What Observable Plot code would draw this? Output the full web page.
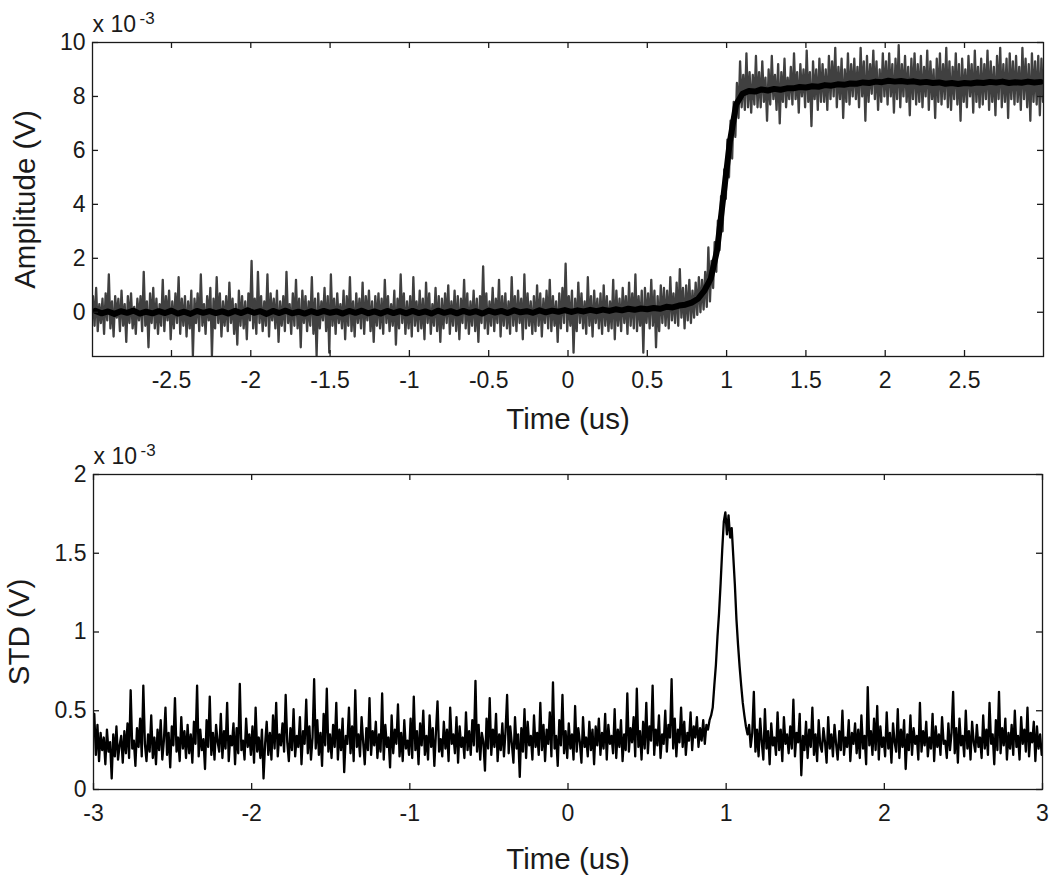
<!DOCTYPE html>
<html><head><meta charset="utf-8">
<script src="https://cdn.jsdelivr.net/npm/d3@7"></script>
<script src="https://cdn.jsdelivr.net/npm/@observablehq/plot@0.6"></script>
<style>
html,body{margin:0;padding:0;background:#fff;}
#chart{width:1050px;font-family:"Liberation Sans",Arial,sans-serif;}
#chart svg{display:block;}
</style></head><body><div id="chart"></div>
<script>
// Sampling grid of the raw amplitude captures (us)
const ampT0 = -2.995, ampDt = 0.01;
// Raw amplitude captures, in units of 1e-3 V
const amplitudeTraces = [
0.6,-0.5,0.9,-0.7,0.3,-0.4,0.5,-0.8,0.7,-0.3,1.4,-0.6,0.4,-0.9,0.6,-0.2,0.5,-0.7,0.8,-0.5,
0.3,-1.1,0.6,-0.4,0.7,-0.6,0.2,-0.8,0.5,-0.3,0.6,-0.7,1.5,-0.5,0.4,-1.3,0.7,-0.4,0.9,-0.6,
0.5,-0.8,0.3,-0.5,1.2,-0.7,0.6,-0.3,0.8,-1.0,0.4,-0.6,0.7,-0.4,1.3,-0.8,0.5,-0.5,0.6,-0.9,
0.4,-0.6,0.8,-1.6,0.5,-0.4,0.7,-0.7,1.4,-0.5,0.3,-0.8,0.6,-0.3,0.9,-1.6,0.5,-0.6,1.3,-0.4,
0.7,-0.9,0.4,-0.5,0.6,-0.7,1.1,-0.4,0.5,-0.8,0.3,-1.2,0.8,-0.5,0.6,-0.6,0.4,-1.0,0.7,-0.3,
1.9,-0.6,0.5,-0.8,1.5,-0.4,0.6,-0.7,0.4,-0.5,1.4,-0.9,0.7,-0.3,0.5,-0.6,0.8,-1.1,0.4,-0.5,
0.6,-0.7,1.5,-0.4,0.3,-0.8,0.7,-0.5,1.2,-0.6,0.5,-1.3,0.8,-0.4,0.6,-0.7,0.4,-0.5,1.3,-0.8,
0.5,-1.6,0.7,-0.6,0.4,-0.3,0.9,-0.7,0.6,-1.5,1.4,-0.5,0.5,-0.8,0.7,-0.4,0.3,-0.6,0.8,-1.0,
0.6,-0.5,1.3,-0.7,0.4,-0.9,0.7,-0.4,0.5,-0.6,1.1,-0.8,0.6,-0.3,0.8,-0.7,0.4,-1.1,0.6,-0.5,
0.7,-0.6,0.5,-0.8,1.2,-0.4,0.6,-0.7,0.3,-0.5,0.8,-1.2,0.5,-0.6,1.4,-0.4,0.7,-0.8,0.4,-0.6,
0.6,-0.9,1.3,-0.5,0.4,-0.7,0.8,-0.6,0.5,-1.0,1.1,-0.4,0.7,-0.8,0.3,-0.5,0.9,-0.7,0.6,-1.1,
0.5,-0.6,0.7,-0.4,1.0,-0.8,0.4,-0.5,0.8,-0.7,0.6,-1.0,0.5,-0.4,1.2,-0.6,0.7,-0.8,0.4,-0.5,
0.8,-0.7,0.5,-1.1,0.6,-0.4,1.7,-0.6,0.7,-0.8,0.4,-0.5,0.9,-0.7,0.5,-0.4,1.2,-0.9,0.6,-0.5,
0.7,-0.6,0.4,-0.8,1.3,-0.5,0.6,-0.7,0.8,-0.4,0.5,-1.0,1.4,-0.6,0.7,-0.5,0.4,-0.8,0.6,-0.7,
1.0,-0.5,0.7,-0.9,0.5,-0.4,0.8,-0.6,1.2,-0.7,0.6,-0.5,0.4,-1.1,0.7,-0.6,0.9,-0.4,1.8,-0.7,
0.6,-0.5,0.8,-1.5,0.5,-0.7,1.1,-0.4,0.7,-0.6,0.4,-0.8,1.3,-0.5,0.6,-0.9,0.8,-0.4,0.5,-0.6,
0.7,-0.8,1.0,-0.5,0.6,-0.7,0.4,-0.6,1.2,-1.0,0.8,-0.5,0.5,-0.7,0.9,-0.4,0.6,-0.8,1.1,-0.5,
0.7,-0.6,1.4,-0.7,0.6,-0.5,0.8,-1.5,0.9,-0.4,0.7,-0.6,1.2,-0.5,0.8,-1.3,0.6,-0.7,1.0,-0.4,
0.9,-0.5,0.8,-0.6,1.3,-0.3,0.7,-0.4,1.1,-0.5,1.6,-0.2,0.9,-0.6,1.0,-0.3,1.2,-0.4,0.8,-0.2,
1.1,-0.1,1.3,0.0,1.2,0.1,1.5,0.2,2.4,0.4,1.9,0.9,2.6,1.5,3.4,2.3,4.3,3.0,5.3,4.2,
6.4,5.0,7.1,5.7,7.8,6.5,8.5,7.2,9.3,7.6,8.8,7.5,9.6,7.6,8.9,7.4,8.8,7.7,9.5,7.6,
8.9,7.6,9.3,7.8,8.7,7.1,9.0,7.7,9.5,7.9,8.8,7.5,9.2,7.0,8.9,7.8,9.4,7.6,8.7,7.9,
9.1,7.7,9.6,7.9,8.9,7.4,9.2,8.0,9.0,7.6,9.7,7.8,8.9,6.9,9.3,7.9,9.0,7.5,9.4,7.8,
9.2,7.8,9.0,7.5,9.5,7.9,9.3,8.0,9.8,7.6,9.1,7.9,9.4,7.2,9.0,7.8,9.6,7.7,9.2,8.0,
9.4,7.9,9.1,7.6,9.8,8.0,9.3,7.1,9.5,7.8,9.2,8.1,9.7,7.9,9.3,7.5,9.0,7.8,9.6,8.0,
9.3,7.7,9.6,8.0,9.2,7.4,9.4,7.9,9.9,7.6,9.2,8.0,9.5,7.8,9.1,7.3,9.4,7.9,9.6,7.7,
9.2,7.8,9.5,7.6,9.1,8.0,9.7,7.5,9.3,7.9,9.0,7.2,9.4,7.8,9.6,7.7,9.2,7.9,9.8,7.6,
9.3,7.5,9.1,7.9,9.6,7.7,9.2,7.1,9.4,7.8,9.0,7.6,9.5,8.0,9.2,7.4,9.7,7.8,9.1,7.6,
9.4,7.7,9.2,7.9,9.7,7.5,9.3,7.8,9.1,7.3,9.5,7.9,9.8,7.6,9.2,7.8,9.4,7.2,9.6,7.9,
9.3,7.7,9.5,7.8,9.1,7.5,9.8,7.9,9.4,7.6,9.2,7.1,9.6,7.8,9.3,7.7,9.5,7.3,9.4,7.8
];
// Averaged amplitude (black trace), units of 1e-3 V
const meanT0 = -2.98, meanDt = 0.04;
const amplitudeMean = [
0.05,-0.04,0.03,-0.06,0.04,-0.02,0.06,-0.05,0.02,-0.04,
0.04,-0.03,0.06,-0.05,0.02,-0.06,0.05,-0.02,0.04,-0.03,
0.03,-0.05,0.05,-0.03,0.07,-0.02,0.04,-0.06,0.05,-0.03,
0.06,-0.04,0.02,-0.05,0.04,-0.03,0.05,-0.02,0.03,-0.05,
0.05,-0.02,0.06,-0.04,0.03,-0.05,0.05,-0.03,0.04,-0.04,
0.05,-0.03,0.03,-0.05,0.06,-0.02,0.04,-0.04,0.05,-0.02,
0.04,-0.05,0.06,-0.01,0.05,-0.03,0.07,0.0,0.04,-0.02,
0.07,0.0,0.06,0.02,0.08,0.01,0.07,0.03,0.09,0.04,
0.1,0.05,0.11,0.07,0.13,0.09,0.14,0.11,0.16,0.13,
0.2,0.18,0.25,0.28,0.36,0.5,0.8,1.25,2.3,4.3,
6.3,7.7,8.1,8.2,8.18,8.26,8.22,8.28,8.25,8.3,
8.3,8.35,8.33,8.38,8.36,8.42,8.4,8.45,8.43,8.48,
8.47,8.52,8.5,8.55,8.53,8.58,8.55,8.57,8.54,8.56,
8.52,8.54,8.5,8.52,8.47,8.5,8.46,8.5,8.48,8.52,
8.5,8.54,8.52,8.55,8.5,8.53,8.51,8.55,8.52,8.54
];
// Standard deviation, units of 1e-3 V
const stdT0 = -2.995, stdDt = 0.01;
const stdValues = [
0.48,0.22,0.41,0.18,0.36,0.25,0.33,0.16,0.38,0.24,0.30,0.07,0.35,0.21,0.40,0.19,0.28,0.34,0.17,0.37,
0.23,0.42,0.20,0.63,0.26,0.31,0.15,0.39,0.27,0.45,0.21,0.66,0.29,0.18,0.35,0.24,0.47,0.20,0.33,0.16,
0.38,0.25,0.44,0.19,0.31,0.52,0.22,0.36,0.14,0.40,0.28,0.58,0.24,0.33,0.18,0.46,0.26,0.37,0.20,0.41,
0.23,0.35,0.17,0.43,0.29,0.66,0.21,0.38,0.25,0.32,0.13,0.44,0.27,0.59,0.22,0.36,0.19,0.41,0.30,0.24,
0.48,0.20,0.37,0.26,0.55,0.18,0.34,0.28,0.42,0.16,0.39,0.23,0.67,0.25,0.31,0.19,0.45,0.27,0.35,0.22,
0.40,0.17,0.52,0.24,0.33,0.20,0.38,0.07,0.29,0.43,0.22,0.36,0.19,0.47,0.26,0.55,0.21,0.35,0.28,0.42,
0.24,0.60,0.30,0.18,0.39,0.25,0.51,0.21,0.34,0.27,0.46,0.16,0.37,0.29,0.57,0.23,0.40,0.19,0.33,0.70,
0.26,0.44,0.22,0.36,0.15,0.48,0.28,0.64,0.24,0.35,0.20,0.41,0.27,0.55,0.19,0.38,0.25,0.45,0.11,0.34,
0.29,0.52,0.23,0.40,0.18,0.63,0.27,0.35,0.21,0.46,0.30,0.16,0.39,0.25,0.58,0.22,0.37,0.28,0.43,0.20,
0.35,0.24,0.61,0.19,0.41,0.27,0.33,0.14,0.47,0.23,0.38,0.29,0.54,0.21,0.36,0.18,0.44,0.26,0.31,0.22,
0.45,0.20,0.59,0.25,0.37,0.16,0.42,0.28,0.50,0.22,0.34,0.19,0.47,0.27,0.39,0.15,0.36,0.56,0.24,0.32,
0.21,0.43,0.26,0.38,0.18,0.52,0.29,0.35,0.23,0.46,0.17,0.40,0.27,0.33,0.20,0.49,0.25,0.37,0.22,0.44,
0.28,0.69,0.24,0.41,0.19,0.36,0.30,0.12,0.45,0.26,0.58,0.22,0.38,0.27,0.48,0.18,0.35,0.25,0.42,0.21,
0.37,0.60,0.23,0.40,0.29,0.17,0.46,0.26,0.35,0.08,0.39,0.24,0.51,0.20,0.43,0.28,0.34,0.19,0.47,0.27,
0.36,0.22,0.55,0.25,0.41,0.18,0.38,0.29,0.49,0.21,0.68,0.26,0.34,0.15,0.44,0.28,0.60,0.23,0.37,0.20,
0.42,0.26,0.35,0.19,0.53,0.24,0.39,0.30,0.17,0.46,0.27,0.33,0.21,0.43,0.25,0.38,0.16,0.40,0.28,0.45,
0.22,0.36,0.26,0.48,0.19,0.41,0.29,0.34,0.23,0.51,0.20,0.38,0.27,0.44,0.18,0.35,0.25,0.61,0.24,0.39,
0.30,0.46,0.21,0.64,0.27,0.37,0.19,0.43,0.26,0.55,0.23,0.40,0.31,0.66,0.22,0.38,0.28,0.47,0.20,0.35,
0.29,0.50,0.24,0.41,0.33,0.70,0.26,0.45,0.21,0.38,0.30,0.52,0.27,0.43,0.22,0.36,0.31,0.49,0.25,0.40,
0.33,0.46,0.27,0.39,0.31,0.44,0.29,0.41,0.38,0.44,0.47,0.52,0.66,0.79,0.97,1.12,1.31,1.52,1.70,1.76,
1.62,1.74,1.60,1.66,1.48,1.30,1.08,0.92,0.78,0.66,0.55,0.47,0.40,0.35,0.41,0.27,0.36,0.62,0.24,0.38,
0.21,0.45,0.30,0.19,0.51,0.26,0.37,0.16,0.42,0.28,0.33,0.22,0.49,0.25,0.38,0.18,0.46,0.29,0.35,0.23,
0.40,0.26,0.57,0.21,0.36,0.30,0.48,0.09,0.34,0.25,0.43,0.20,0.38,0.27,0.52,0.22,0.35,0.18,0.44,0.28,
0.24,0.39,0.30,0.17,0.46,0.26,0.35,0.21,0.41,0.29,0.19,0.37,0.25,0.50,0.22,0.33,0.27,0.44,0.18,0.36,
0.29,0.42,0.23,0.38,0.20,0.47,0.26,0.34,0.16,0.65,0.28,0.37,0.22,0.45,0.25,0.53,0.19,0.40,0.27,0.33,
0.21,0.49,0.26,0.36,0.17,0.42,0.30,0.24,0.51,0.20,0.38,0.27,0.44,0.13,0.35,0.25,0.47,0.22,0.39,0.29,
0.34,0.19,0.55,0.24,0.37,0.28,0.43,0.21,0.33,0.26,0.48,0.18,0.40,0.27,0.35,0.22,0.46,0.29,0.31,0.20,
0.42,0.25,0.36,0.62,0.23,0.39,0.17,0.45,0.28,0.34,0.21,0.50,0.26,0.37,0.19,0.43,0.30,0.24,0.41,0.27,
0.33,0.20,0.47,0.26,0.38,0.22,0.55,0.29,0.35,0.16,0.44,0.25,0.62,0.23,0.39,0.28,0.45,0.19,0.36,0.26,
0.41,0.22,0.50,0.27,0.34,0.19,0.46,0.29,0.38,0.24,0.52,0.21,0.36,0.30,0.43,0.18,0.40,0.26,0.35,0.22
];
const topXTicks = [-2.5,-2,-1.5,-1,-0.5,0,0.5,1,1.5,2,2.5];
const topYTicks = [0,2,4,6,8,10];
const botXTicks = [-3,-2,-1,0,1,2,3];
const botYTicks = [0,0.5,1,1.5,2];
const xTitle = "Time (us)";
const topYTitle = "Amplitude (V)";
const botYTitle = "STD (V)";
const scaleBase = "x 10";
const scaleExp = "-3";

const rawRows = amplitudeTraces.map((v, i) => ({t: ampT0 + i * ampDt, v}));
const meanRows = amplitudeMean.map((v, i) => ({t: meanT0 + i * meanDt, v}));
const stdRows = stdValues.map((v, i) => ({t: stdT0 + i * stdDt, v}));

const FONT = '"Liberation Sans", Arial, Helvetica, sans-serif';
const INK = "#1a1a1a";

function panel(o) {
  const iw = o.width - o.ml - o.mr, ih = o.height - o.mt - o.mb;
  return Plot.plot({
    width: o.width, height: o.height,
    marginTop: o.mt, marginRight: o.mr, marginBottom: o.mb, marginLeft: o.ml,
    style: {fontFamily: FONT, fontSize: "23px", color: INK, background: "white", overflow: "visible"},
    x: {domain: o.xDomain},
    y: {domain: o.yDomain},
    marks: [
      ...o.marks,
      Plot.frame({stroke: INK, strokeWidth: 1.3}),
      Plot.tickX(o.xTicks, {x: d => d, insetTop: ih - 6, stroke: INK, strokeWidth: 1.3}),
      Plot.tickX(o.xTicks, {x: d => d, insetBottom: ih - 6, stroke: INK, strokeWidth: 1.3}),
      Plot.tickY(o.yTicks, {y: d => d, insetRight: iw - 6, stroke: INK, strokeWidth: 1.3}),
      Plot.tickY(o.yTicks, {y: d => d, insetLeft: iw - 6, stroke: INK, strokeWidth: 1.3}),
      Plot.axisX({ticks: o.xTicks, tickSize: 0, tickPadding: 15, tickFormat: d => String(d), label: null, fontSize: 23, fill: INK}),
      Plot.axisY({ticks: o.yTicks, tickSize: 0, tickPadding: 7, tickFormat: d => String(d), label: null, fontSize: 23, fill: INK}),
      Plot.text([xTitle], {text: d => d, frameAnchor: "bottom", dy: o.xTitleDy, textAnchor: "middle", lineAnchor: "middle", fontSize: 29.5, fill: INK}),
      Plot.text([o.yTitle], {text: d => d, frameAnchor: "left", dx: o.yTitleDx, rotate: -90, textAnchor: "middle", lineAnchor: "middle", fontSize: 29.5, fill: INK}),
      Plot.text([scaleBase], {text: d => d, frameAnchor: "top-left", dy: -18, textAnchor: "start", lineAnchor: "middle", fontSize: 23, fill: INK}),
      Plot.text([scaleExp], {text: d => d, frameAnchor: "top-left", dx: 47, dy: -24, textAnchor: "start", lineAnchor: "middle", fontSize: 17, fill: INK})
    ]
  });
}

const topPanel = panel({
  width: 1050, height: 440, mt: 42, mr: 7, mb: 84, ml: 92,
  xDomain: [-2.998, 2.998], yDomain: [-1.64, 10],
  xTicks: topXTicks, yTicks: topYTicks, yTitle: topYTitle,
  xTitleDy: 63, yTitleDx: -67,
  marks: [
    Plot.line(rawRows, {x: "t", y: "v", stroke: "#404040", strokeWidth: 2.3, clip: true}),
    Plot.line(meanRows, {x: "t", y: "v", stroke: "#000", strokeWidth: 6, clip: true})
  ]
});

const bottomPanel = panel({
  width: 1050, height: 439, mt: 34, mr: 8, mb: 90, ml: 93,
  xDomain: [-3, 3], yDomain: [0, 2],
  xTicks: botXTicks, yTicks: botYTicks, yTitle: botYTitle,
  xTitleDy: 70, yTitleDx: -74,
  marks: [
    Plot.line(stdRows, {x: "t", y: "v", stroke: "#000", strokeWidth: 2.3, clip: true})
  ]
});

const root = document.getElementById("chart");
root.appendChild(topPanel);
root.appendChild(bottomPanel);
</script>
</body></html>
